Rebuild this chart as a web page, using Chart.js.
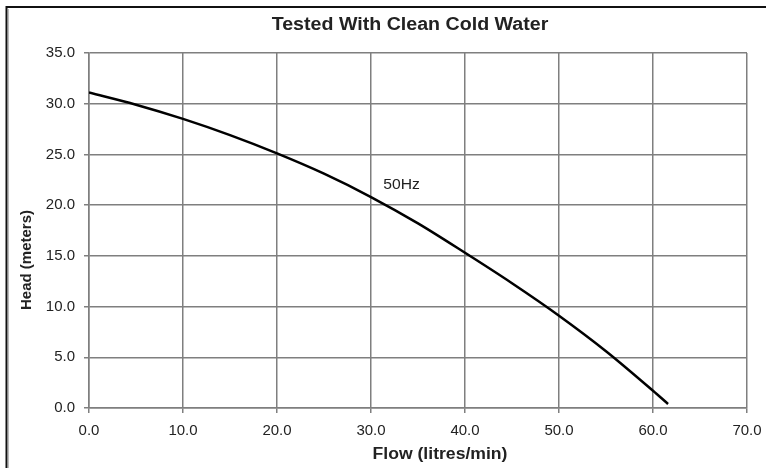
<!DOCTYPE html>
<html lang="en">

<head>
    <meta charset="UTF-8">
    <title>Pump Curve</title>
    <style>
        body {
            margin: 0;
            background: #fff;
        }

        #wrap {
            width: 766px;
            height: 468px;
        }
    </style>
    <script src="https://cdn.jsdelivr.net/npm/chart.js"></script>
</head>

<body>

    <div id="wrap"><canvas id="pumpChart" width="766" height="468"></canvas></div>

    <script>
        // values
        const flow = [0, 5, 10, 15, 20, 25, 30, 35, 40, 45, 50, 55, 60, 61.6];
        const head = [31.1, 29.9, 28.5, 26.9, 25.1, 23.1, 20.8, 18.2, 15.3, 12.3, 9.1, 5.6, 1.7, 0.4];
        const xTicks = [0, 10, 20, 30, 40, 50, 60, 70];
        const yTicks = [0, 5, 10, 15, 20, 25, 30, 35];

        const chartTitle = "Tested With Clean Cold Water";
        const xTitle = "Flow (litres/min)";
        const yTitle = "Head (meters)";
        const curveLabel = "50Hz";

        const gridGrey = "#7f7f7f";
        const textCol = "#222";
        const fontFam = "'Liberation Sans', Arial, sans-serif";

        // the reference text is a bit wider than plain Arial, so stretch it a little
        function wideText(ctx, text, x, y, sx) {
            ctx.save();
            ctx.translate(x, y);
            ctx.scale(sx, 1);
            ctx.fillText(text, 0, 0);
            ctx.restore();
        }

        const extras = {
            id: "extras",
            afterDraw(chart) {
                const ctx = chart.ctx;
                const xs = chart.scales.x;
                const ys = chart.scales.y;
                ctx.save();
                // outer frame (left + top)
                ctx.strokeStyle = "#111";
                ctx.lineWidth = 2;
                ctx.beginPath();
                ctx.moveTo(6.5, 468);
                ctx.lineTo(6.5, 7);
                ctx.lineTo(766, 7);
                ctx.stroke();
                ctx.strokeStyle = "#bbb";
                ctx.lineWidth = 1;
                ctx.beginPath();
                ctx.moveTo(8.5, 468);
                ctx.lineTo(8.5, 9);
                ctx.stroke();

                ctx.fillStyle = textCol;
                ctx.textAlign = "center";
                ctx.textBaseline = "middle";
                ctx.font = "bold 18px " + fontFam;
                wideText(ctx, chartTitle, 410, 25, 1.09);
                ctx.font = "bold 16px " + fontFam;
                wideText(ctx, xTitle, 440, 455, 1.1);

                ctx.save();
                ctx.translate(27, 260);
                ctx.rotate(-Math.PI / 2);
                ctx.font = "bold 15px " + fontFam;
                ctx.fillText(yTitle, 0, 0);
                ctx.restore();

                ctx.font = "14px " + fontFam;
                ctx.textAlign = "left";
                wideText(ctx, curveLabel, xs.getPixelForValue(31.3), ys.getPixelForValue(22.0), 1.12);
                ctx.restore();
            }
        };

        const ctx = document.getElementById("pumpChart").getContext("2d");
        const pumpChart = new Chart(ctx, {
            type: "line",
            data: {
                datasets: [{
                    label: curveLabel,
                    data: flow.map((f, i) => ({ x: f, y: head[i] })),
                    borderColor: "#000",
                    borderWidth: 2.5,
                    pointRadius: 0,
                    tension: 0.4,
                    cubicInterpolationMode: "monotone",
                    fill: false
                }]
            },
            options: {
                responsive: false,
                animation: false,
                layout: {
                    padding: { left: 0, top: 53, right: 19, bottom: 0 }
                },
                plugins: {
                    legend: { display: false },
                    title: { display: false },
                    tooltip: { enabled: false }
                },
                scales: {
                    x: {
                        type: "linear",
                        min: 0,
                        max: 70,
                        afterFit(scale) {
                            scale.height = 60;
                            scale.paddingLeft = 0;
                            scale.paddingRight = 0;
                        },
                        afterBuildTicks(scale) { scale.ticks = xTicks.map(v => ({ value: v })); },
                        grid: { color: gridGrey, lineWidth: 1.5, tickLength: 5 },
                        border: { color: gridGrey, width: 1.5 },
                        ticks: {
                            padding: 9,
                            color: textCol,
                            font: { family: fontFam, size: 15 },
                            callback: v => v.toFixed(1)
                        }
                    },
                    y: {
                        min: 0,
                        max: 35,
                        afterFit(scale) {
                            scale.width = 89;
                            scale.paddingTop = 0;
                            scale.paddingBottom = 0;
                        },
                        afterBuildTicks(scale) { scale.ticks = yTicks.map(v => ({ value: v })); },
                        grid: { color: gridGrey, lineWidth: 1.5, tickLength: 5 },
                        border: { color: gridGrey, width: 1.5 },
                        ticks: {
                            padding: 9,
                            color: textCol,
                            font: { family: fontFam, size: 15 },
                            callback: v => v.toFixed(1)
                        }
                    }
                }
            },
            plugins: [extras]
        });
    </script>
</body>

</html>
